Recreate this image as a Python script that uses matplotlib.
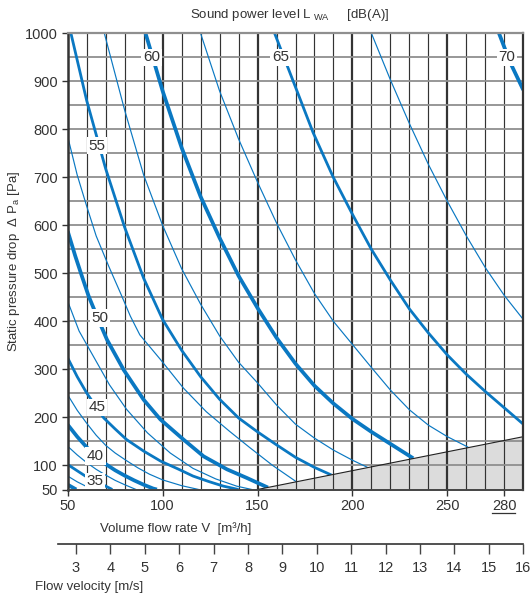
import matplotlib
matplotlib.use("Agg")
import matplotlib.pyplot as plt
from matplotlib.patches import Polygon
from matplotlib.transforms import blended_transform_factory

plt.rcParams['font.family'] = ['Liberation Sans', 'DejaVu Sans']
plt.rcParams['mathtext.default'] = 'regular'

BLUE = "#0a78c2"
TXT = "#333333"
GRID_H = "#8f8f8f"
GRID_V = "#333333"

# iso lines of sound power level L_WA [dB(A)]: flow rate [m3/h] / static pressure [Pa]
l30_v = [50, 54.5]
l30_p = [60, 50]
l325_v = [50, 55, 60, 63]
l325_p = [78, 66, 56, 50]
l35_v = [50, 55, 59.3, 64.4, 69, 73.5]
l35_p = [102, 89, 78, 67, 59, 50]
l375_v = [50, 55, 60, 65, 70, 75, 80, 86]
l375_p = [140, 122, 106, 92, 80, 69, 60, 50]
l40_v = [50, 55, 60, 65, 70, 75, 80, 85, 90, 95, 97]
l40_p = [185, 160, 138, 119, 103, 90, 79, 69, 60, 52, 50]
l425_v = [50, 55, 60, 65, 70, 75, 81, 87, 93, 100, 110, 119]
l425_p = [247, 215, 188, 163, 142, 126, 110, 95, 82, 70, 58, 50]
l45_v = [50, 55, 60, 65, 69, 75, 81, 90, 99, 108, 116, 124, 132, 140]
l45_p = [324, 285, 251, 222, 199, 176, 154, 130, 109, 93, 78, 67, 57, 50]
l475_v = [50, 56, 64, 72, 81, 92, 104, 116, 128, 139, 147]
l475_p = [442, 380, 324, 268, 217, 168, 126, 94, 72, 57, 50]
l50_v = [50, 54, 57.5, 61, 66, 70.7, 79.5, 90, 98.8, 111, 121.6, 133.9, 144.4, 155.5]
l50_p = [588, 536, 494, 453, 405, 362, 299, 237, 196, 154, 119, 92, 74, 54]
l525_v = [50, 55, 60, 65, 71.6, 77.7, 83, 88, 99, 111, 123, 135, 146, 158, 170.5]
l525_p = [785, 705, 640, 578, 515, 460, 411, 372, 320, 261, 212, 172, 137, 100, 66]
l55_v = [51.7, 60, 70, 80, 90, 100, 110, 120, 130, 140, 150, 160, 170, 180, 189]
l55_p = [1000, 860, 718, 596, 490, 404, 340, 285, 238, 199, 170, 143, 117, 96, 80]
l575_v = [69.3, 80, 90, 100, 110, 120, 130, 140, 150, 160, 170, 180, 190, 200, 208]
l575_p = [1000, 840, 705, 600, 510, 436, 370, 315, 272, 226, 186, 157, 132, 111, 96]
l60_v = [91, 100, 110, 120, 130, 140, 150, 160, 170, 180, 190, 200, 210, 220, 232]
l60_p = [1000, 880, 762, 660, 574, 495, 428, 366, 312, 266, 229, 197, 170, 145, 115]
l625_v = [120, 130, 140, 150, 160, 170, 180, 190, 200, 210, 220, 230, 240, 250, 261]
l625_p = [1000, 880, 780, 690, 605, 528, 458, 400, 352, 304, 257, 216, 184, 160, 138]
l65_v = [159, 169.6, 179.3, 189.8, 200, 210, 220, 230, 240, 250, 260, 270, 280, 290]
l65_p = [1000, 892, 793, 701, 623, 550, 486, 426, 376, 330, 290, 254, 220, 186]
l675_v = [210, 220, 230, 240, 250, 260, 270, 280, 290]
l675_p = [1000, 903, 812, 727, 650, 578, 512, 454, 404]
l70_v = [277.2, 283, 290]
l70_p = [1000, 940, 882]

LEVELS = [30, 32.5, 35, 37.5, 40, 42.5, 45, 47.5, 50, 52.5, 55, 57.5, 60, 62.5, 65, 67.5, 70]
CURVES_V = [l30_v, l325_v, l35_v, l375_v, l40_v, l425_v, l45_v, l475_v, l50_v,
            l525_v, l55_v, l575_v, l60_v, l625_v, l65_v, l675_v, l70_v]
CURVES_P = [l30_p, l325_p, l35_p, l375_p, l40_p, l425_p, l45_p, l475_p, l50_p,
            l525_p, l55_p, l575_p, l60_p, l625_p, l65_p, l675_p, l70_p]

LABEL_LEVELS = [35, 40, 45, 50, 55, 60, 65, 70]
LABEL_V = [64.4, 64.7, 65.3, 67, 65.3, 94.2, 162, 281.4]
LABEL_P = [67, 120, 221, 407, 766, 950, 950, 950]

# operating limit (grey area)
LIMIT_V = [150, 290, 290]
LIMIT_P = [50, 160, 50]

FLOW_TICKS = [50, 100, 150, 200, 250, 280]
PRESSURE_TICKS = [50, 100, 200, 300, 400, 500, 600, 700, 800, 900, 1000]
VELOCITY_TICKS = [3, 4, 5, 6, 7, 8, 9, 10, 11, 12, 13, 14, 15, 16]
FLOW_PER_VELOCITY = 18.125  # m3/h per m/s

W, H = 532, 601
fig = plt.figure(figsize=(W / 100, H / 100), dpi=100)
ax = fig.add_axes([67.7 / W, 1 - 489.5 / H, 455.6 / W, 456.2 / H])
ax.set_xlim(50, 290)
ax.set_ylim(50, 1000)

# grid
for v in range(60, 290, 10):
    ax.axvline(v, color=GRID_V, lw=1.6 if v % 50 == 0 else 0.85, zorder=2)
for p in range(100, 1000, 50):
    ax.axhline(p, color=GRID_H, lw=1.3, zorder=2)

ax.add_patch(Polygon(list(zip(LIMIT_V, LIMIT_P)), closed=True,
                     facecolor="#dcdcdc", edgecolor="none", zorder=1))
ax.plot(LIMIT_V[:2], LIMIT_P[:2], color="#222222", lw=0.8, zorder=4)

clip = Polygon([(50, 50), (LIMIT_V[0], LIMIT_P[0]), (LIMIT_V[1], LIMIT_P[1]),
                (290, 1000), (50, 1000)], closed=True, transform=ax.transData)

for lvl, vs, ps in zip(LEVELS, CURVES_V, CURVES_P):
    if lvl % 10 == 0:
        lw = 2.7
    elif lvl % 5 == 0:
        lw = 2.0
    else:
        lw = 0.85
    ln, = ax.plot(vs, ps, color=BLUE, lw=lw, solid_capstyle="butt", zorder=3)
    ln.set_clip_path(clip)

for lvl, v, p in zip(LABEL_LEVELS, LABEL_V, LABEL_P):
    ax.text(v, p, str(lvl), ha="center", va="center", fontsize=11, color=TXT,
            bbox=dict(facecolor="white", edgecolor="none", pad=1.2), zorder=5)

for side, col, w in [("left", GRID_V, 1.8), ("right", GRID_V, 1.6),
                     ("top", GRID_H, 1.6), ("bottom", "#444444", 1.4)]:
    ax.spines[side].set_color(col)
    ax.spines[side].set_linewidth(w)
    ax.spines[side].set_zorder(6)

ax.set_xticks(FLOW_TICKS)
ax.set_xticklabels([str(t) for t in FLOW_TICKS])
ax.set_yticks(PRESSURE_TICKS)
ax.set_yticklabels([str(t) for t in PRESSURE_TICKS])
ax.tick_params(direction="out", length=4, width=1, color="#333333",
               labelsize=10.5, labelcolor=TXT, pad=3)

# underline under 280
trans = blended_transform_factory(ax.transData, ax.transAxes)
ax.plot([273.5, 285.8], [-0.0515, -0.0515], transform=trans, clip_on=False,
        color=TXT, lw=0.9)

fig.text(290 / W, 1 - 15 / H, r"Sound power level L$_{\ WA}$     [dB(A)]",
         ha="center", va="center", fontsize=9.5, color=TXT)
fig.text(14 / W, 1 - 261 / H, "Static pressure drop  Δ P$_a$ [Pa]",
         rotation=90, ha="center", va="center", fontsize=9.5, color=TXT)
fig.text(100 / W, 1 - 528.3 / H, "Volume flow rate V  [m³/h]",
         ha="left", va="center", fontsize=9.5, color=TXT)
fig.text(35 / W, 1 - 586.7 / H, "Flow velocity [m/s]",
         ha="left", va="center", fontsize=9.5, color=TXT)

# flow velocity scale
x0 = 67.7 - 9.4
ax2 = fig.add_axes([x0 / W, 1 - 544.3 / H, (523.3 - x0) / W, 0.0001])
ax2.set_xlim(50 - 9.4 / 1.898, 290)
for side in ["left", "right", "top"]:
    ax2.spines[side].set_visible(False)
ax2.spines["bottom"].set_color("#333333")
ax2.spines["bottom"].set_linewidth(1.2)
ax2.set_yticks([])
ax2.set_xticks([v * FLOW_PER_VELOCITY for v in VELOCITY_TICKS])
ax2.set_xticklabels([str(v) for v in VELOCITY_TICKS])
ax2.tick_params(direction="out", length=7, width=1, color="#444444",
                labelsize=10.5, labelcolor=TXT, pad=5)
ax2.patch.set_visible(False)

fig.savefig("out.png", dpi=100)
